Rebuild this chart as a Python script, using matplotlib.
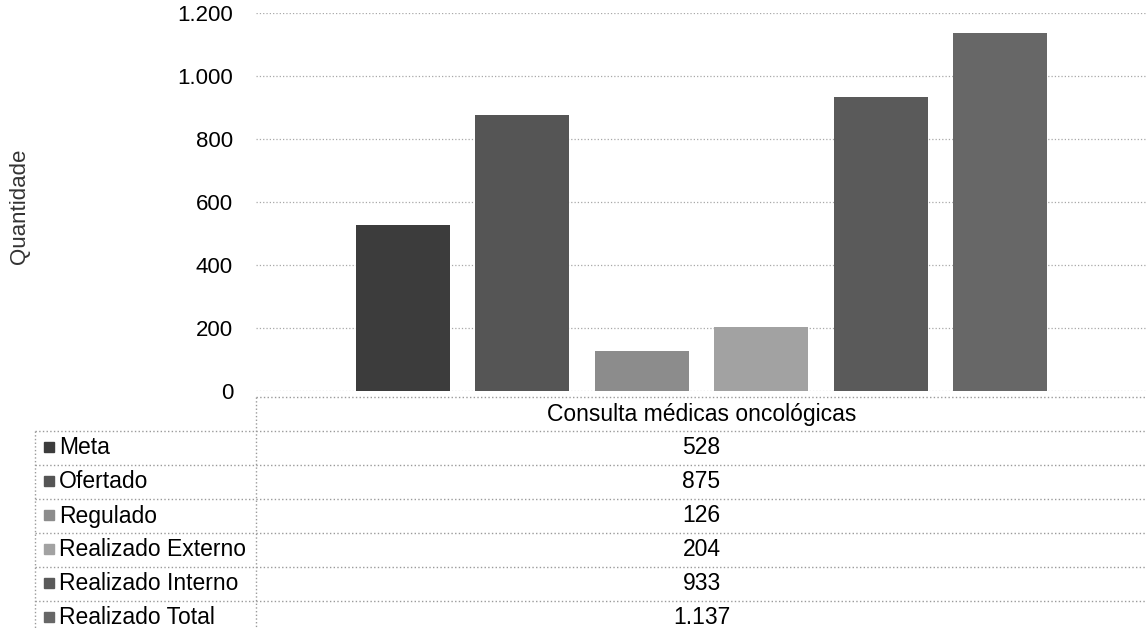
import matplotlib
matplotlib.use("Agg")
import matplotlib.pyplot as plt
from matplotlib.ticker import FuncFormatter

# ----- data -----
category = "Consulta médicas oncológicas"
series = ["Meta", "Ofertado", "Regulado", "Realizado Externo",
          "Realizado Interno", "Realizado Total"]
values = [528, 875, 126, 204, 933, 1137]
colors = ["#3c3c3c", "#555555", "#8c8c8c", "#a2a2a2", "#5a5a5a", "#676767"]
yticks = [0, 200, 400, 600, 800, 1000, 1200]

plt.rcParams["font.family"] = ["Liberation Sans", "DejaVu Sans"]

W, H = 1147, 628
fig = plt.figure(figsize=(W / 100, H / 100), dpi=100)


def br(n):
    # brazilian thousands separator
    return f"{n:,.0f}".replace(",", ".")


# ----- bar area (pixel layout) -----
x0, x1 = 256, 1147
y_top, y_zero = 13, 391
ax = fig.add_axes([x0 / W, (H - y_zero) / H, (x1 - x0) / W, (y_zero - y_top) / H])

step = 119.5
half = (x1 - x0) / step / 2
pos = list(range(len(values)))
ax.bar(pos, values, width=0.79, color=colors, zorder=3)
ax.set_xlim(2.5 - half, 2.5 + half)
ax.set_ylim(0, 1200)
ax.set_yticks(yticks)
ax.yaxis.set_major_formatter(FuncFormatter(lambda v, p: br(v)))
ax.set_xticks([])
ax.tick_params(axis="y", length=0, pad=16.5, labelsize=16)
ax.grid(axis="y", linestyle=":", color="#a8a8a8", linewidth=0.9, zorder=0)
for s in ax.spines.values():
    s.set_visible(False)
fig.text(9 / W, 1 - 206 / H, "Quantidade", rotation=90, fontsize=16,
         ha="left", va="center", color="#333333")

# ----- data table underneath (pixel coordinates) -----
tb = fig.add_axes([0, 0, 1, 1])
tb.set_xlim(0, W)
tb.set_ylim(H, 0)
tb.axis("off")

lc = "#9a9a9a"
ls = ":"
left_x, mid_x = 35, 256
head_top, row0, rh = 397, 431, 34

# header cell
tb.plot([mid_x, W], [head_top, head_top], ls, color=lc, lw=1)
tb.plot([mid_x, mid_x], [head_top, H], ls, color=lc, lw=1)
tb.plot([left_x, left_x], [row0, H], ls, color=lc, lw=1)
tb.text((mid_x + W) / 2, (head_top + row0) / 2 + 1, category,
        ha="center", va="center", fontsize=16.5)

for i, (name, v, c) in enumerate(zip(series, values, colors)):
    yt = row0 + i * rh
    tb.plot([left_x, W], [yt, yt], ls, color=lc, lw=1)
    yc = yt + rh / 2
    tb.plot([49], [yc - 1], marker="s", markersize=7, color=c, linestyle="none")
    tb.text(59, yc, name, ha="left", va="center", fontsize=16.5)
    tb.text((mid_x + W) / 2, yc, br(v), ha="center", va="center", fontsize=16.5)

fig.savefig("out.png", dpi=100)
